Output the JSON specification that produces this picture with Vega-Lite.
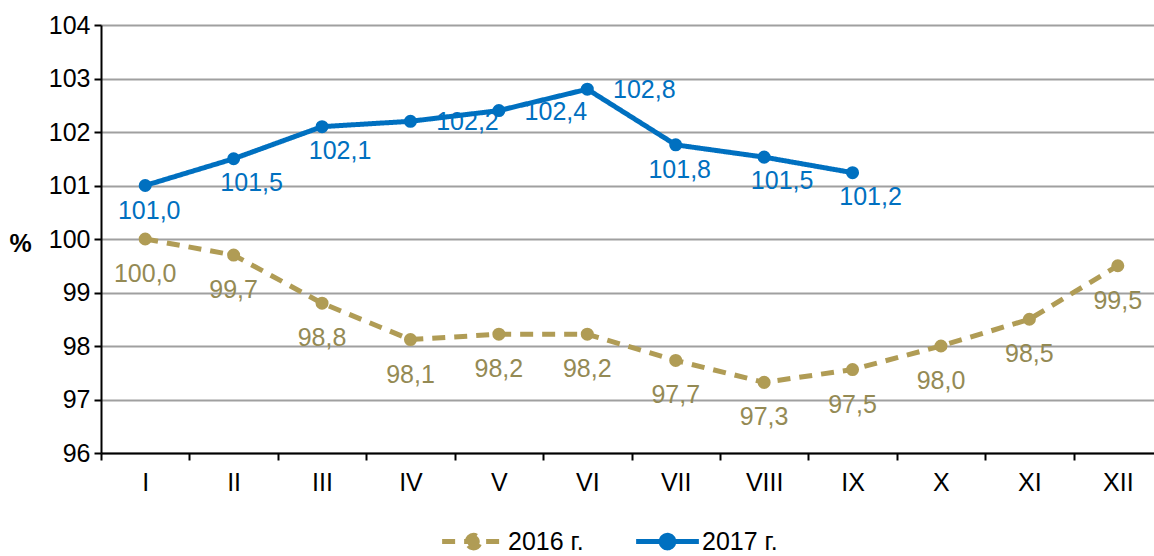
{
  "$schema": "https://vega.github.io/schema/vega-lite/v6.json",
  "width": 1053,
  "height": 428,
  "autosize": "none",
  "padding": {"left": 101, "top": 25, "right": 0, "bottom": 103},
  "background": "white",
  "config": {
    "font": "Liberation Sans",
    "view": {"stroke": null},
    "axis": {"labelFont": "Liberation Sans", "labelFontSize": 25, "labelColor": "#000000", "domainColor": "#000000", "domainWidth": 2, "tickColor": "#000000", "tickWidth": 2, "tickSize": 7}
  },
  "data": {"values": [
    {"m": "I", "year": "2016 г.", "v": 100.0, "lab": "100,0"},
    {"m": "II", "year": "2016 г.", "v": 99.7, "lab": "99,7"},
    {"m": "III", "year": "2016 г.", "v": 98.8, "lab": "98,8"},
    {"m": "IV", "year": "2016 г.", "v": 98.12, "lab": "98,1"},
    {"m": "V", "year": "2016 г.", "v": 98.22, "lab": "98,2"},
    {"m": "VI", "year": "2016 г.", "v": 98.22, "lab": "98,2"},
    {"m": "VII", "year": "2016 г.", "v": 97.73, "lab": "97,7"},
    {"m": "VIII", "year": "2016 г.", "v": 97.32, "lab": "97,3"},
    {"m": "IX", "year": "2016 г.", "v": 97.56, "lab": "97,5"},
    {"m": "X", "year": "2016 г.", "v": 98.0, "lab": "98,0"},
    {"m": "XI", "year": "2016 г.", "v": 98.5, "lab": "98,5"},
    {"m": "XII", "year": "2016 г.", "v": 99.5, "lab": "99,5"},
    {"m": "I", "year": "2017 г.", "v": 101.0, "lab": "101,0"},
    {"m": "II", "year": "2017 г.", "v": 101.5, "lab": "101,5"},
    {"m": "III", "year": "2017 г.", "v": 102.1, "lab": "102,1"},
    {"m": "IV", "year": "2017 г.", "v": 102.2, "lab": "102,2"},
    {"m": "V", "year": "2017 г.", "v": 102.4, "lab": "102,4"},
    {"m": "VI", "year": "2017 г.", "v": 102.8, "lab": "102,8"},
    {"m": "VII", "year": "2017 г.", "v": 101.76, "lab": "101,8"},
    {"m": "VIII", "year": "2017 г.", "v": 101.53, "lab": "101,5"},
    {"m": "IX", "year": "2017 г.", "v": 101.24, "lab": "101,2"}
  ]},
  "encoding": {
    "x": {
      "field": "m", "type": "nominal", "sort": null,
      "scale": {"domain": ["I","II","III","IV","V","VI","VII","VIII","IX","X","XI","XII"], "range": [0, 1061], "paddingInner": 0, "paddingOuter": 0},
      "axis": {"title": null, "labelAngle": 0, "grid": false, "tickBand": "extent", "labelPadding": 10, "labelBaseline": "top"}
    },
    "y": {
      "field": "v", "type": "quantitative",
      "scale": {"domain": [96, 104], "nice": false, "zero": false},
      "axis": {"values": [96,97,98,99,100,101,102,103,104], "grid": true, "gridColor": "#A0A0A0", "gridWidth": 2, "labelPadding": 4, "title": "%", "titleAngle": 0, "titleX": -81, "titleY": 218, "titleAlign": "center", "titleBaseline": "middle", "titleFontSize": 25, "titleFontWeight": "bold", "titleFont": "Liberation Sans", "titleColor": "#000000"}
    }
  },
  "layer": [
    {
      "mark": {"type": "line", "strokeWidth": 5},
      "encoding": {
        "color": {"field": "year", "type": "nominal", "scale": {"domain": ["2016 г.", "2017 г."], "range": ["#B09C55", "#0070C0"]},
          "legend": {"title": null, "orient": "none", "legendX": 349, "legendY": 493, "padding": 0, "direction": "horizontal", "labelFontSize": 25, "labelFont": "Liberation Sans", "labelColor": "#000000", "symbolType": "M-1.5,0H1.5M-0.3,0A0.3,0.3,0,1,1,0.3,0A0.3,0.3,0,1,1,-0.3,0", "symbolSize": 1750, "symbolStrokeWidth": 5, "labelOffset": 11, "columnPadding": 42,
            "encode": {"symbols": {"update": {"fill": {"scale": "color", "field": "value"}}}}}},
        "strokeDash": {"field": "year", "type": "nominal", "scale": {"domain": ["2016 г.", "2017 г."], "range": [[13, 9], [1, 0]]}, "legend": null}
      }
    },
    {
      "mark": {"type": "point", "filled": true, "size": 170, "opacity": 1},
      "encoding": {
        "color": {"field": "year", "type": "nominal", "legend": null}
      }
    },
    {
      "transform": [{"filter": "datum.year == '2016 г.'"}],
      "mark": {"type": "text", "fontSize": 25, "font": "Liberation Sans", "color": "#948A54", "dy": 35, "baseline": "middle"},
      "encoding": {"text": {"field": "lab"}}
    },
    {
      "transform": [{"filter": "datum.year == '2017 г.' && indexof(['I','VII'], datum.m) >= 0"}],
      "mark": {"type": "text", "fontSize": 25, "font": "Liberation Sans", "color": "#0070C0", "dy": 25, "dx": 4, "baseline": "middle"},
      "encoding": {"text": {"field": "lab"}}
    },
    {
      "transform": [{"filter": "datum.year == '2017 г.' && indexof(['II','III','VIII','IX'], datum.m) >= 0"}],
      "mark": {"type": "text", "fontSize": 25, "font": "Liberation Sans", "color": "#0070C0", "dy": 24, "dx": 18, "baseline": "middle"},
      "encoding": {"text": {"field": "lab"}}
    },
    {
      "transform": [{"filter": "datum.year == '2017 г.' && indexof(['IV','V','VI'], datum.m) >= 0"}],
      "mark": {"type": "text", "fontSize": 25, "font": "Liberation Sans", "color": "#0070C0", "dy": 1, "dx": 57, "baseline": "middle"},
      "encoding": {"text": {"field": "lab"}}
    }
  ]
}
